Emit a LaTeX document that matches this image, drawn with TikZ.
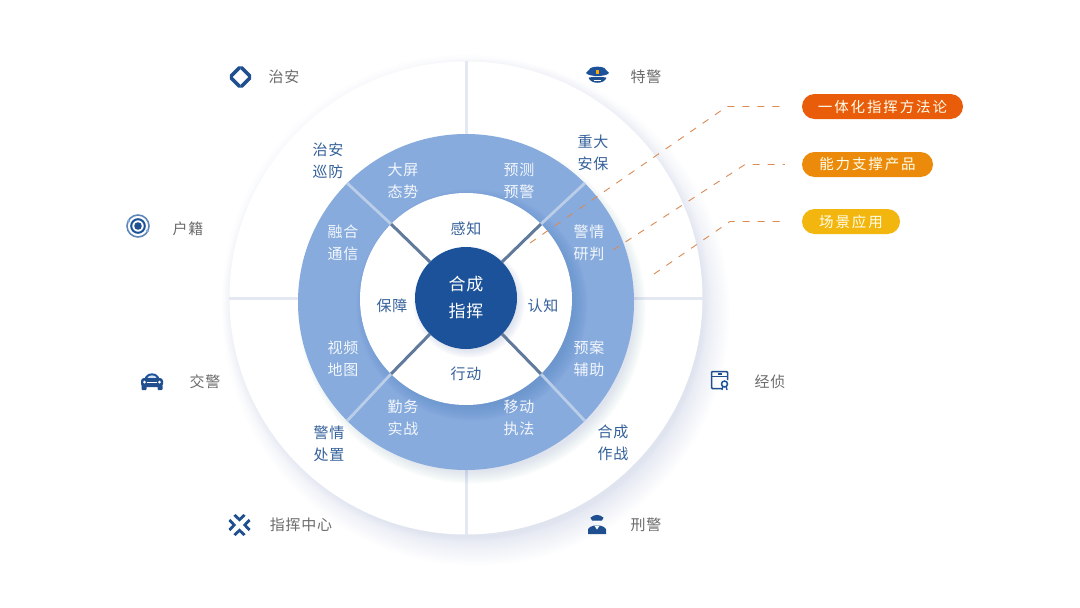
\documentclass[tikz,border=0pt]{standalone}
\usepackage{fontspec}
\newfontfamily\cjk[LetterSpace=5]{Noto Sans CJK SC}
\newfontfamily\cjkwide[LetterSpace=13]{Noto Sans CJK SC}

\definecolor{navy}{HTML}{1B5299}
\definecolor{iconblue}{HTML}{1F4F8F}
\definecolor{ringblue}{HTML}{87ABDD}
\definecolor{axisgrey}{HTML}{E3E8F2}
\definecolor{haze}{HTML}{8A9AC4}
\definecolor{leadorange}{HTML}{D98A55}
\definecolor{pillone}{HTML}{E95C0A}
\definecolor{pilltwo}{HTML}{EC8B0B}
\definecolor{pillthree}{HTML}{F3B60F}

\newcommand{\softglow}[5]{\foreach \g in {1,...,#4} \fill[haze,opacity=#5] (#1,#2) circle ({#3+\g});}

\tikzset{
	disc/.style={circle,inner sep=0pt},
	outerlabel/.style={yshift=-0.8,font=\cjk\fontsize{15}{21}\selectfont,text=black!58},
	tasklabel/.style={yshift=-0.8,align=center,font=\cjk\fontsize{15}{21.5}\selectfont,text=iconblue!90!white},
	ringlabel/.style={yshift=-0.8,align=center,font=\cjk\fontsize{15}{21.5}\selectfont,text=white!90!ringblue},
	innerlabel/.style={yshift=-0.8,font=\cjk\fontsize{15}{21}\selectfont,text=iconblue!90!white},
	pill/.style={rounded corners=12.5,minimum height=25,inner sep=0pt,font=\cjkwide\fontsize{14.5}{21}\selectfont,text=white!92!yellow},
	leader/.style={draw=leadorange,line width=0.9,dash pattern=on 7 off 8},
	spokedark/.style={draw=iconblue!60!gray!85!white,line width=3},
	spokelight/.style={draw=axisgrey!55!ringblue,line width=2.8},
}

\begin{document}
\begin{tikzpicture}[x=1pt,y=-1pt]
	\useasboundingbox (0,0) rectangle (1080,608);

	% Outer disc
	\softglow{466}{298}{236}{8}{0.007}
	\softglow{476}{312}{224}{30}{0.009}
	\node[disc,fill=white,minimum size=473] (outerdisc) at (466,298) {};
	\draw[axisgrey,line width=3] (outerdisc.west) -- (outerdisc.east);
	\draw[axisgrey,line width=3] (outerdisc.north) -- (outerdisc.south);

	% Ring
	\softglow{472}{310}{160}{14}{0.02}
	\node[disc,fill=ringblue,minimum size=336] (ring) at (466,302) {};

	% Inner disc
	\foreach \g in {1,...,16} \fill[iconblue,opacity=0.012] (472,305) circle ({100+\g});
	\node[disc,fill=white,minimum size=212] (innerdisc) at (466,299) {};

	% Core
	\softglow{469}{302}{46}{10}{0.03}
	\node[disc,fill=navy,minimum size=102,align=center,text=white,font=\cjk\fontsize{17}{27}\selectfont] (core) at (466,298) {合成\\指挥};

	% Spokes
	\foreach \a in {45,135,225,315} {
		\draw[spokedark] (core.\a) -- (innerdisc.\a);
		\draw[spokelight] (innerdisc.\a) -- (ring.\a);
	}

	% Inner labels
	\node[innerlabel] (ganzhi) at (466,228) {感知};
	\node[innerlabel] (baozhang) at (392,305) {保障};
	\node[innerlabel] (renzhi) at (543,305) {认知};
	\node[innerlabel] (xingdong) at (466,373) {行动};

	% Ring labels
	\node[ringlabel] (taishi) at (403,180) {大屏\\态势};
	\node[ringlabel] (yujing) at (519,180) {预测\\预警};
	\node[ringlabel] (tongxin) at (343,242) {融合\\通信};
	\node[ringlabel] (yanpan) at (589,242) {警情\\研判};
	\node[ringlabel] (ditu) at (343,358) {视频\\地图};
	\node[ringlabel] (fuzhu) at (589,358) {预案\\辅助};
	\node[ringlabel] (shizhan) at (403,417) {勤务\\实战};
	\node[ringlabel] (zhifa) at (519,417) {移动\\执法};

	% Task labels
	\node[tasklabel] (xunfang) at (328,160) {治安\\巡防};
	\node[tasklabel] (anbao) at (593,152) {重大\\安保};
	\node[tasklabel] (chuzhi) at (329,443) {警情\\处置};
	\node[tasklabel] (zuozhan) at (613,442) {合成\\作战};

	% Outer labels
	\node[outerlabel] (zhian) at (284,76) {治安};
	\node[outerlabel] (tejing) at (646,76) {特警};
	\node[outerlabel] (huji) at (188,228) {户籍};
	\node[outerlabel] (jiaojing) at (205,381) {交警};
	\node[outerlabel] (zhihui) at (301,524) {指挥中心};
	\node[outerlabel] (xingjing) at (646,524) {刑警};
	\node[outerlabel] (jingzhen) at (770,381) {经侦};

	% Pills
	\node[pill,fill=pillone,minimum width=161] (method) at (882.5,106.5) {一体化指挥方法论};
	\node[pill,fill=pilltwo,minimum width=131] (product) at (867.5,164.5) {能力支撑产品};
	\node[pill,fill=pillthree,minimum width=98] (scene) at (851,221.5) {场景应用};

	% Leaders
	\coordinate (startone) at (530,243);
	\coordinate (bendone) at (727,106.5);
	\coordinate (starttwo) at (613,250);
	\coordinate (bendtwo) at (745,164.5);
	\coordinate (startthree) at (654,274);
	\coordinate (bendthree) at (730,221.5);
	\draw[leader] (startone) -- (bendone) -- ([xshift=-19]method.west);
	\draw[leader] (starttwo) -- (bendtwo) -- ([xshift=-17]product.west);
	\draw[leader] (startthree) -- (bendthree) -- ([xshift=-17]scene.west);

	% Icon: diamond
	\begin{scope}[shift={(240.5,77)}]
		\draw[iconblue,line width=3.4,line cap=round] (-9.4,-1) -- (-1,-9.4);
		\draw[iconblue,line width=3.4,line cap=round] (1,-9.4) -- (9.4,-1);
		\draw[iconblue,line width=3.4,line cap=round] (9.4,1) -- (1,9.4);
		\draw[iconblue,line width=3.4,line cap=round] (-1,9.4) -- (-9.4,1);
	\end{scope}

	% Icon: cap
	\begin{scope}[shift={(597.5,75)}]
		\fill[navy] (-11.5,-2) .. controls (-9,-4) and (-8,-6) .. (-7,-7) .. controls (-3,-8.8) and (3,-8.8) .. (7,-7) .. controls (8,-6) and (9,-4) .. (11.5,-2) .. controls (9,2) and (-9,2) .. (-11.5,-2) -- cycle;
		\fill[iconblue] (-9,2.6) .. controls (-4,1.6) and (4,1.6) .. (9,2.6) .. controls (7,9.5) and (-7,9.5) .. (-9,2.6) -- cycle;
		\fill[orange!70!yellow] (-1.8,-5.5) rectangle (1.8,-1.5);
		\draw[white,line width=0.7] (-3.5,5.2) -- (3.5,5.2);
	\end{scope}

	% Icon: target
	\begin{scope}[shift={(138,226)}]
		\draw[navy!70!white,line width=1.6] (0,0) circle (11);
		\draw[navy,line width=2] (0,0) circle (6.8);
		\fill[iconblue] (0,0) circle (3.8);
		\fill[ringblue] (9.4,4.8) circle (1.8);
		\fill[ringblue] (-9.4,-4.8) circle (1.8);
	\end{scope}

	% Icon: car
	\begin{scope}[shift={(152,381)}]
		\fill[navy] (-7.5,-2) .. controls (-6,-9.5) and (6,-9.5) .. (7.5,-2) -- cycle;
		\fill[ringblue!35!white] (-4.8,-2.8) .. controls (-3.5,-6.6) and (3.5,-6.6) .. (4.8,-2.8) -- cycle;
		\fill[iconblue,rounded corners=3] (-11,-3) rectangle (11,6);
		\fill[iconblue,rounded corners=1] (-10.5,4) rectangle (-5.5,9);
		\fill[iconblue,rounded corners=1] (5.5,4) rectangle (10.5,9);
		\fill[white] (-4.8,0.6) rectangle (4.8,2.2);
		\fill[white] (-7.5,1.2) circle (1.5);
		\fill[white] (7.5,1.2) circle (1.5);
	\end{scope}

	% Icon: chevrons
	\begin{scope}[shift={(239.5,525)}]
		\foreach \r in {0,90,180,270} {
			\begin{scope}[rotate=\r]
				\fill[iconblue] (0,-3.4) -- (-6.2,-9.2) -- (-3.8,-11) -- (0,-7.2) -- (3.8,-11) -- (6.2,-9.2) -- cycle;
			\end{scope}
		}
	\end{scope}

	% Icon: officer
	\begin{scope}[shift={(597,525)}]
		\fill[iconblue] (-9,9) -- (-9,4) .. controls (-8.5,1.8) and (-5,1.5) .. (-3.2,0.6) -- (3.2,0.6) .. controls (5,1.5) and (8.5,1.8) .. (9,4) -- (9,9) -- cycle;
		\fill[white] (-2.4,1) -- (2.4,1) -- (0,4.6) -- cycle;
		\fill[navy] (-4.4,-5) -- (4.4,-5) arc (0:-180:4.4 and 5.2) -- cycle;
		\fill[iconblue] (-6.6,-7.2) .. controls (-3,-11) and (3,-11) .. (6.6,-7.2) -- (4.8,-4.4) -- (-4.8,-4.4) -- cycle;
		\fill[white] (-3.4,-3.8) rectangle (3.4,-3.1);
	\end{scope}

	% Icon: file
	\begin{scope}[shift={(720,380)}]
		\draw[iconblue,line width=1.5,rounded corners=1] (2,8.5) -- (-8.5,8.5) -- (-8.5,-8.5) -- (7.5,-8.5) -- (7.5,0);
		\draw[iconblue,line width=1.3] (-8.5,-3.5) -- (7.5,-3.5);
		\draw[iconblue,line width=1.2] (-2.5,-6) -- (1.5,-6);
		\draw[navy,line width=1.5] (4.5,4) circle (3);
		\draw[navy,line width=1.3] (2.8,6.5) -- (2,10);
		\draw[navy,line width=1.3] (6.2,6.5) -- (7,10);
	\end{scope}
\end{tikzpicture}
\end{document}
